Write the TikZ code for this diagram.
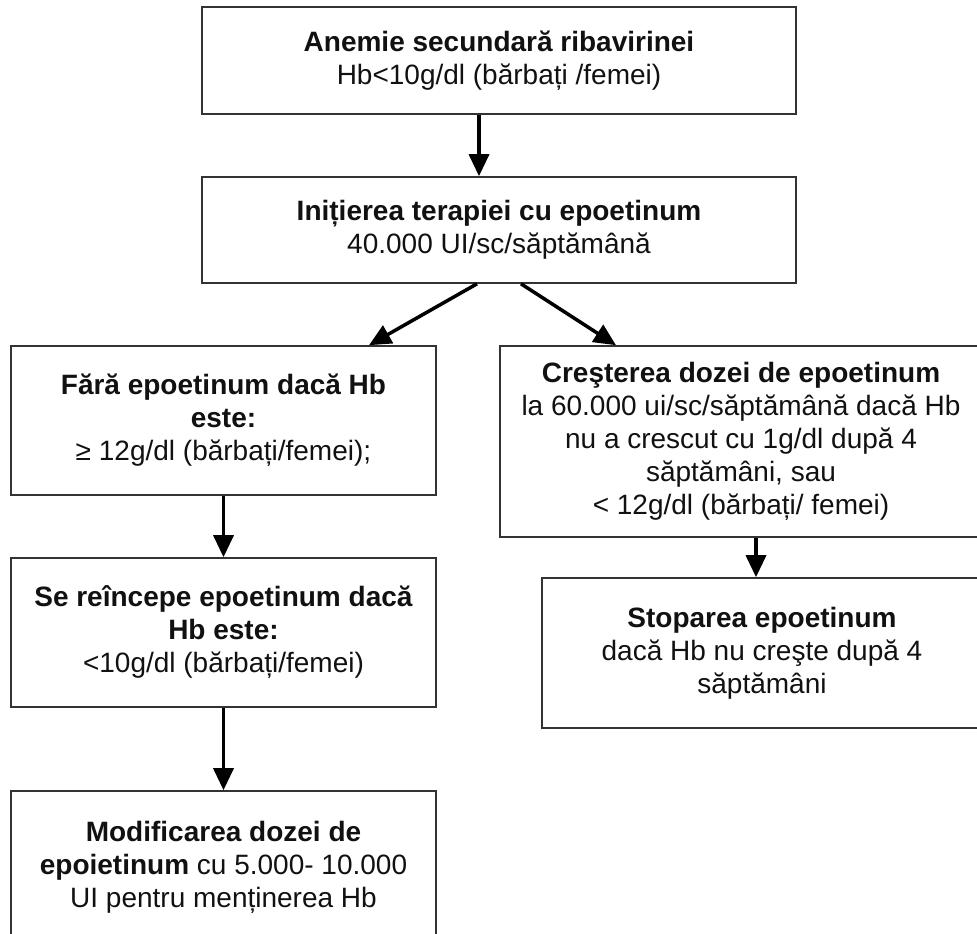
\documentclass[tikz,border=0pt]{standalone}
\usepackage{fontspec}
\setmainfont{Liberation Sans}
\usetikzlibrary{arrows.meta}
\definecolor{boxgray}{HTML}{333333}
\definecolor{textblack}{HTML}{111111}

\begin{document}
\begin{tikzpicture}[x=1pt, y=-1pt, >={Triangle[length=22pt, width=20pt]}, line width=3.5pt]

\clip (0,0) rectangle (977,934);

\tikzstyle{every node}=[rectangle, draw=boxgray, line width=1.6pt, align=center, inner sep=0pt, text=textblack, font=\fontsize{28}{33}\selectfont]
\draw    (499, 60.5)  node[minimum width=594pt, minimum height=107pt] (anemie) {\textbf{Anemie secundară ribavirinei}\\Hb<10g/dl (bărbați /femei)}
         (499, 230)   node[minimum width=594pt, minimum height=106pt] (init) {\textbf{Inițierea terapiei cu epoetinum}\\40.000 UI/sc/săptămână};

\draw    (223.5, 420.5) node[minimum width=425pt, minimum height=149pt] (fara) {\textbf{Fără epoetinum dacă Hb}\\\textbf{este:}\\≥ 12g/dl (bărbați/femei);}
         (223.5, 632.5) node[minimum width=425pt, minimum height=149pt] (reincepe) {\textbf{Se reîncepe epoetinum dacă}\\\textbf{Hb este:}\\<10g/dl (bărbați/femei)}
         (223.5, 867)   node[minimum width=425pt, minimum height=152pt] (modif) {\textbf{Modificarea dozei de}\\\textbf{epoietinum} cu 5.000- 10.000\\UI pentru menținerea Hb};

\draw    (741, 441.5) node[minimum width=482pt, minimum height=191pt] (crestere) {\textbf{Creşterea dozei de epoetinum}\\la 60.000 ui/sc/săptămână dacă Hb\\nu a crescut cu 1g/dl după 4\\săptămâni, sau\\< 12g/dl (bărbați/ femei)}
         (762, 653)   node[minimum width=440pt, minimum height=150pt] (stop) {\textbf{Stoparea epoetinum}\\dacă Hb nu creşte după 4\\săptămâni};

\draw [->] ([xshift=-20pt]anemie.south) -- ([xshift=-20pt]init.north);
\draw [->] ([xshift=-22pt]init.south) -- ([xshift=145.5pt]fara.north);
\draw [->] ([xshift=22pt]init.south) -- ([xshift=-125pt]crestere.north);
\draw [->] (fara.south) -- (reincepe.north);
\draw [->] (reincepe.south) -- (modif.north);
\draw [->] ([xshift=15pt]crestere.south) -- ([xshift=-6pt]stop.north);

\end{tikzpicture}
\end{document}
